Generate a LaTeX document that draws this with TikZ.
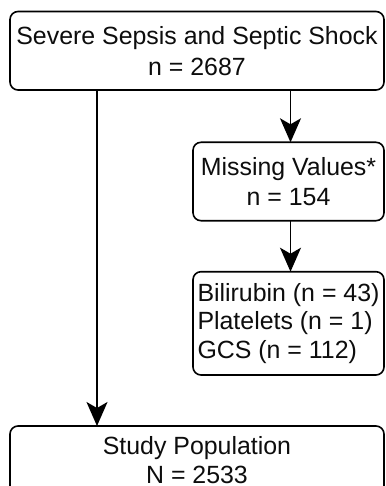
\documentclass[tikz,border=0pt]{standalone}
\usepackage{fontspec}
\setmainfont{Liberation Sans}
\usetikzlibrary{arrows.meta}
\begin{document}
\begin{tikzpicture}[x=1pt,y=-1pt,
  box/.style={draw=black, line width=1.6pt, rounded corners=8pt, anchor=north west,
    inner sep=0pt, outer sep=0pt, text=black!95},
  arr/.style={line width=1.6pt, -{Stealth[length=24pt,width=21pt,inset=6pt]}}]
\useasboundingbox (0,0) rectangle (385,486);
\clip (0,0) rectangle (385,486);
\node[box, minimum width=374pt, minimum height=78.5pt, align=center,
  font=\fontsize{24.9}{31}\selectfont] (sepsis) at (10,11.5)
  {Severe Sepsis and Septic Shock\\n = 2687};
\node[box, minimum width=191pt, minimum height=78.4pt, align=center,
  font=\fontsize{24.9}{30}\selectfont] (missing) at (193,142.3)
  {Missing Values*\\n = 154};
\node[box, minimum width=191pt, minimum height=103.3pt, align=left,
  font=\fontsize{24.9}{28.5}\selectfont] (detail) at (193,271.7)
  {Bilirubin (n = 43)\\Platelets (n = 1)\\GCS (n = 112)};
\node[box, minimum width=374pt, minimum height=68pt, align=center,
  font=\fontsize{24.9}{28.5}\selectfont] (study) at (10,426)
  {Study Population\\N = 2533};
\coordinate (lx) at (97,0);
\coordinate (rx) at (290.5,0);
\draw[arr] (sepsis.south -| lx) -- (study.north -| lx);
\draw[arr] (sepsis.south -| rx) -- (missing.north -| rx);
\draw[arr] (missing.south -| rx) -- (detail.north -| rx);
\end{tikzpicture}
\end{document}
